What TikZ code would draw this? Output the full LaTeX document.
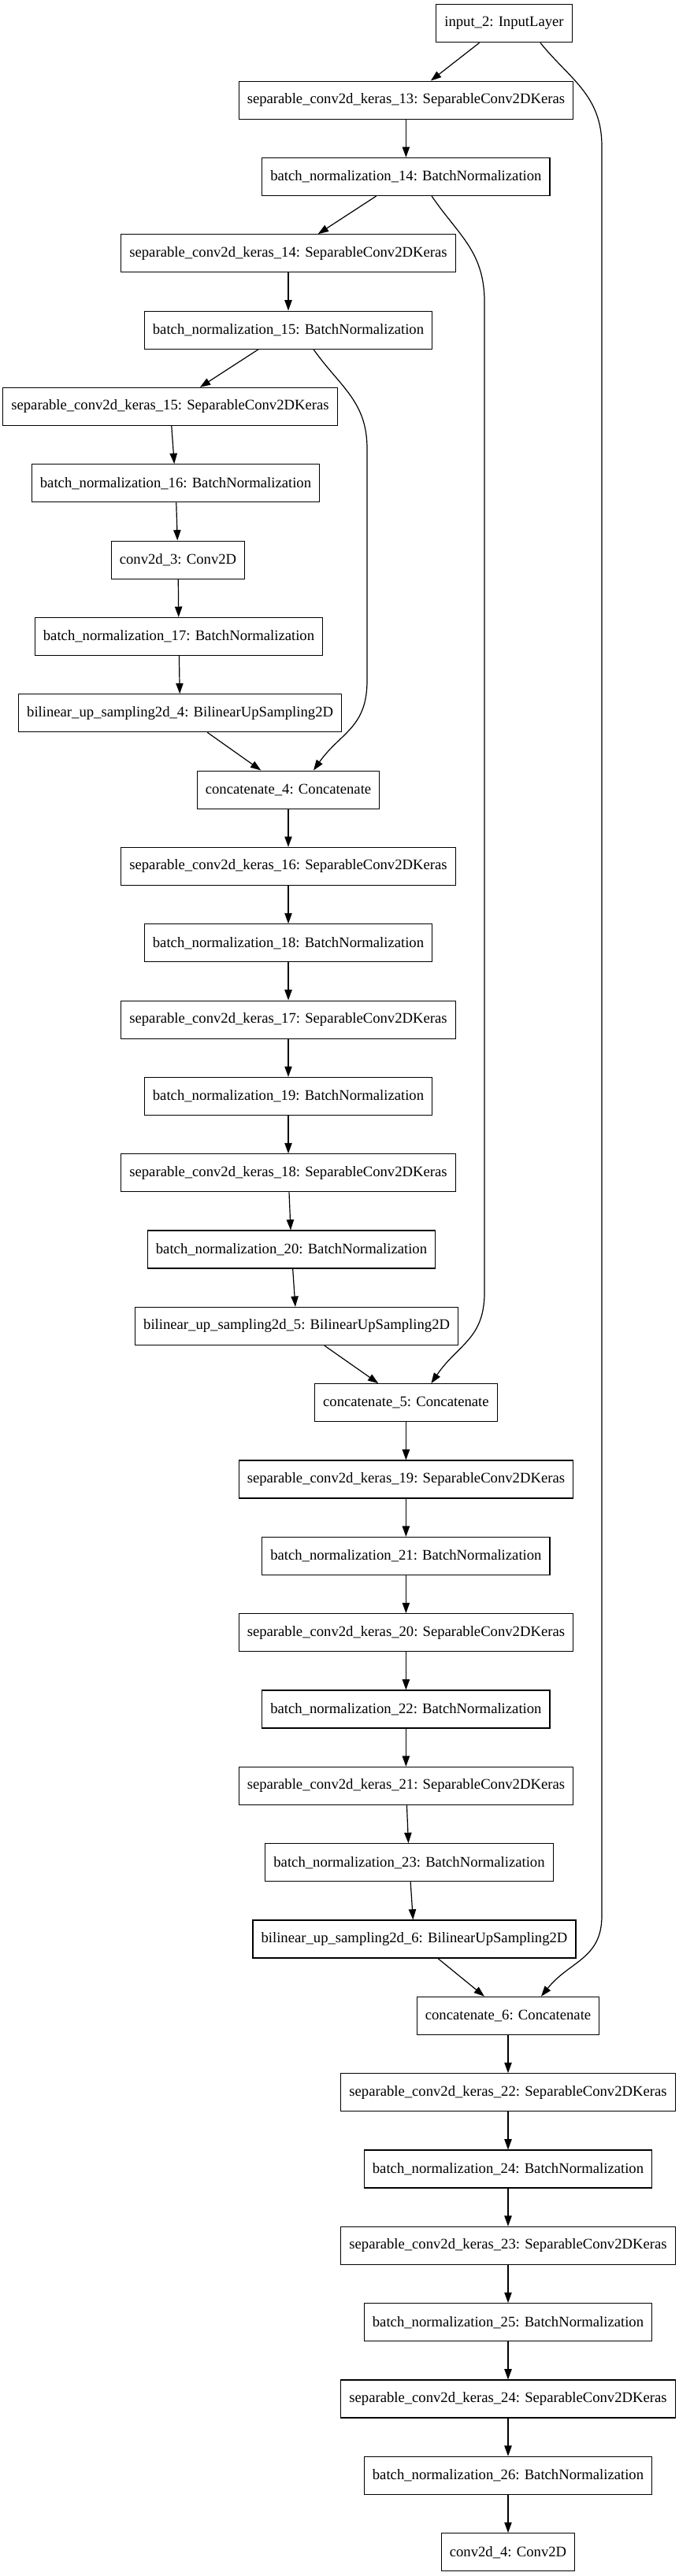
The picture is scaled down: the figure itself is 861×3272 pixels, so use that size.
\documentclass[tikz,border=0pt]{standalone}
\usepackage{fontspec}
\setmainfont{Liberation Serif}
\usetikzlibrary{arrows.meta}

\begin{document}
\begin{tikzpicture}[x=0.75pt, y=-0.75pt,
    layer/.style={rectangle, draw, line width=0.9pt, minimum height=36pt, inner xsep=7.92pt, font=\fontsize{14pt}{16pt}\selectfont},
    arr/.style={-{Triangle[length=10pt, width=7pt]}, line width=0.9pt}]
    \useasboundingbox (0,0) rectangle (861,3272);

    % Nodes
    \node[layer] at (640.0, 29.8+97.33* 0)  (in2)   {input\_2: InputLayer};
    \node[layer] at (515.4, 29.8+97.33* 1)  (sep13) {separable\_conv2d\_keras\_13: SeparableConv2DKeras};
    \node[layer] at (515.4, 29.8+97.33* 2)  (bn14)  {batch\_normalization\_14: BatchNormalization};
    \node[layer] at (366.0, 29.8+97.33* 3)  (sep14) {separable\_conv2d\_keras\_14: SeparableConv2DKeras};
    \node[layer] at (366.0, 29.8+97.33* 4)  (bn15)  {batch\_normalization\_15: BatchNormalization};
    \node[layer] at (216.0, 29.8+97.33* 5)  (sep15) {separable\_conv2d\_keras\_15: SeparableConv2DKeras};
    \node[layer] at (223.0, 29.8+97.33* 6)  (bn16)  {batch\_normalization\_16: BatchNormalization};
    \node[layer] at (226.0, 29.8+97.33* 7)  (conv3) {conv2d\_3: Conv2D};
    \node[layer] at (227.0, 29.8+97.33* 8)  (bn17)  {batch\_normalization\_17: BatchNormalization};
    \node[layer] at (228.6, 29.8+97.33* 9)  (up4)   {bilinear\_up\_sampling2d\_4: BilinearUpSampling2D};
    \node[layer] at (366.0, 29.8+97.33*10)  (cat4)  {concatenate\_4: Concatenate};
    \node[layer] at (366.0, 29.8+97.33*11)  (sep16) {separable\_conv2d\_keras\_16: SeparableConv2DKeras};
    \node[layer] at (366.0, 29.8+97.33*12)  (bn18)  {batch\_normalization\_18: BatchNormalization};
    \node[layer] at (366.0, 29.8+97.33*13)  (sep17) {separable\_conv2d\_keras\_17: SeparableConv2DKeras};
    \node[layer] at (366.0, 29.8+97.33*14)  (bn19)  {batch\_normalization\_19: BatchNormalization};
    \node[layer] at (366.0, 29.8+97.33*15)  (sep18) {separable\_conv2d\_keras\_18: SeparableConv2DKeras};
    \node[layer] at (370.0, 29.8+97.33*16)  (bn20)  {batch\_normalization\_20: BatchNormalization};
    \node[layer] at (376.6, 29.8+97.33*17)  (up5)   {bilinear\_up\_sampling2d\_5: BilinearUpSampling2D};
    \node[layer] at (515.4, 29.8+97.33*18)  (cat5)  {concatenate\_5: Concatenate};
    \node[layer] at (515.4, 29.8+97.33*19)  (sep19) {separable\_conv2d\_keras\_19: SeparableConv2DKeras};
    \node[layer] at (515.4, 29.8+97.33*20)  (bn21)  {batch\_normalization\_21: BatchNormalization};
    \node[layer] at (515.4, 29.8+97.33*21)  (sep20) {separable\_conv2d\_keras\_20: SeparableConv2DKeras};
    \node[layer] at (515.4, 29.8+97.33*22)  (bn22)  {batch\_normalization\_22: BatchNormalization};
    \node[layer] at (515.4, 29.8+97.33*23)  (sep21) {separable\_conv2d\_keras\_21: SeparableConv2DKeras};
    \node[layer] at (519.5, 29.8+97.33*24)  (bn23)  {batch\_normalization\_23: BatchNormalization};
    \node[layer] at (526.0, 29.8+97.33*25)  (up6)   {bilinear\_up\_sampling2d\_6: BilinearUpSampling2D};
    \node[layer] at (645.0, 29.8+97.33*26)  (cat6)  {concatenate\_6: Concatenate};
    \node[layer] at (645.0, 29.8+97.33*27)  (sep22) {separable\_conv2d\_keras\_22: SeparableConv2DKeras};
    \node[layer] at (645.0, 29.8+97.33*28)  (bn24)  {batch\_normalization\_24: BatchNormalization};
    \node[layer] at (645.0, 29.8+97.33*29)  (sep23) {separable\_conv2d\_keras\_23: SeparableConv2DKeras};
    \node[layer] at (645.0, 29.8+97.33*30)  (bn25)  {batch\_normalization\_25: BatchNormalization};
    \node[layer] at (645.0, 29.8+97.33*31)  (sep24) {separable\_conv2d\_keras\_24: SeparableConv2DKeras};
    \node[layer] at (645.0, 29.8+97.33*32)  (bn26)  {batch\_normalization\_26: BatchNormalization};
    \node[layer] at (645.0, 29.8+97.33*33)  (conv4) {conv2d\_4: Conv2D};

    \draw[arr] (in2) -- (sep13);
    \draw[arr] (sep13) -- (bn14);
    \draw[arr] (bn14) -- (sep14);
    \draw[arr] (sep14) -- (bn15);
    \draw[arr] (bn15) -- (sep15);
    \draw[arr] (sep15) -- (bn16);
    \draw[arr] (bn16) -- (conv3);
    \draw[arr] (conv3) -- (bn17);
    \draw[arr] (bn17) -- (up4);
    \draw[arr] (up4) -- (cat4);

    \draw[arr] (cat4) -- (sep16);
    \draw[arr] (sep16) -- (bn18);
    \draw[arr] (bn18) -- (sep17);
    \draw[arr] (sep17) -- (bn19);
    \draw[arr] (bn19) -- (sep18);
    \draw[arr] (sep18) -- (bn20);
    \draw[arr] (bn20) -- (up5);
    \draw[arr] (up5) -- (cat5);

    \draw[arr] (cat5) -- (sep19);
    \draw[arr] (sep19) -- (bn21);
    \draw[arr] (bn21) -- (sep20);
    \draw[arr] (sep20) -- (bn22);
    \draw[arr] (bn22) -- (sep21);
    \draw[arr] (sep21) -- (bn23);
    \draw[arr] (bn23) -- (up6);
    \draw[arr] (up6) -- (cat6);

    \draw[arr] (cat6) -- (sep22);
    \draw[arr] (sep22) -- (bn24);
    \draw[arr] (bn24) -- (sep23);
    \draw[arr] (sep23) -- (bn25);
    \draw[arr] (bn25) -- (sep24);
    \draw[arr] (sep24) -- (bn26);
    \draw[arr] (bn26) -- (conv4);

    % skip connections
    \draw[arr] ([xshift=24pt]bn15.south) .. controls +(34,48) and +(0,-60) .. ++(68,126)
        -- ++(0,295) .. controls +(0,60) and +(34,-48) .. ([xshift=24pt]cat4.north);
    \draw[arr] ([xshift=24.5pt]bn14.south) .. controls +(34,50) and +(0,-65) .. ++(67,135)
        -- ++(0,1257) .. controls +(0,60) and +(34,-50) .. ([xshift=24pt]cat5.north);
    \draw[arr] ([xshift=34.5pt]in2.south) .. controls +(36,45) and +(0,-65) .. ++(78,131)
        -- ++(0,2248) .. controls +(0,55) and +(36,-45) .. ([xshift=31.5pt]cat6.north);
  \end{tikzpicture}
\end{document}
